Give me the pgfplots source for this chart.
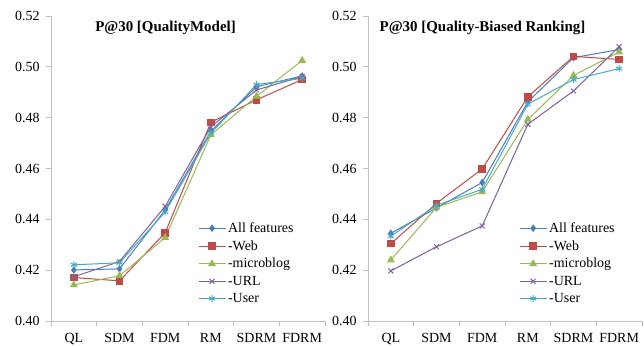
\documentclass[border=0pt]{standalone}
\usepackage{fontspec}
\setmainfont{Liberation Serif}
\usepackage{pgfplots}
\pgfplotsset{compat=1.18}
\definecolor{cblue}{HTML}{4A7EBB}
\definecolor{cred}{HTML}{BE4B48}
\definecolor{cgreen}{HTML}{98B954}
\definecolor{cpurple}{HTML}{7D60A0}
\definecolor{ccyan}{HTML}{46AAC5}
\definecolor{axgray}{HTML}{BFBFBF}
\pgfplotsset{
  panel/.style={
    scale only axis, width=274bp, height=305bp,
    anchor=south west,
    xmin=-0.5, xmax=5.5, ymin=0.40, ymax=0.52,
    axis x line*=bottom, axis y line*=left,
    axis line style={axgray, line width=0.8bp},
    every tick/.style={axgray, line width=0.8bp},
    tick align=outside, major tick length=5bp,
    xtick={-0.5,0.5,...,5.5},
    x tick label as interval,
    xticklabels={QL,SDM,FDM,RM,SDRM,FDRM},
    xticklabel style={yshift=-4bp},
    ytick={0.40,0.42,...,0.521},
    yticklabel style={/pgf/number format/.cd, fixed, fixed zerofill, precision=2, /tikz/.cd, xshift=-3bp},
    /pgf/number format/assume math mode=true,
    tick label style={font=\fontsize{14}{16}\selectfont, black},
    legend style={draw=none, fill=none, font=\fontsize{14}{16}\selectfont, anchor=north west, row sep=2.6bp, inner sep=0pt,
      nodes={inner sep=2bp}},
    legend cell align=left,
    legend image code/.code={\draw[mark repeat=2,mark phase=2] plot coordinates {(0bp,0bp)(13.5bp,0bp)(27bp,0bp)};},
    every axis plot/.append style={line width=1bp},
    title style={anchor=center, yshift=0pt, font=\fontsize{15}{17}\selectfont},
  },
  sA/.style={cblue, mark=diamond*, mark size=3bp, mark options={solid}},
  sB/.style={cred, mark=square*, mark size=3.2bp},
  sC/.style={cgreen, mark=triangle*, mark size=3.6bp},
  sD/.style={cpurple, mark=x, mark size=3.5bp},
  sE/.style={ccyan, mark=asterisk, mark size=3.5bp},
}
\begin{document}
\begin{tikzpicture}
\path[use as bounding box] (0,0) rectangle (644bp,346bp);
\begin{axis}[panel, at={(51bp,25bp)},
  title={\textbf{P@30 [QualityModel]}},
  title style={at={(axis description cs:0.418,0.94)}},
  legend style={at={(axis description cs:0.536,0.33)}}]
\addplot[sA] coordinates {(0,0.4201)(1,0.4205)(2,0.4437)(3,0.4747)(4,0.4922)(5,0.4964)};
\addplot[sB] coordinates {(0,0.4171)(1,0.4158)(2,0.4347)(3,0.4782)(4,0.4870)(5,0.4950)};
\addplot[sC] coordinates {(0,0.4142)(1,0.4178)(2,0.4328)(3,0.4732)(4,0.4884)(5,0.5025)};
\addplot[sD] coordinates {(0,0.4174)(1,0.4234)(2,0.4451)(3,0.4764)(4,0.4909)(5,0.4962)};
\addplot[sE] coordinates {(0,0.4221)(1,0.4229)(2,0.4429)(3,0.4739)(4,0.4930)(5,0.4955)};
\legend{All features,-Web,-microblog,-URL,-User}
\end{axis}
\begin{axis}[panel, at={(368bp,25bp)},
  title={\textbf{P@30 [Quality-Biased Ranking]}},
  title style={at={(axis description cs:0.418,0.94)}},
  legend style={at={(axis description cs:0.551,0.33)}}]
\addplot[sA] coordinates {(0,0.4345)(1,0.4445)(2,0.4545)(3,0.4862)(4,0.5036)(5,0.5068)};
\addplot[sB] coordinates {(0,0.4304)(1,0.4463)(2,0.4598)(3,0.4882)(4,0.5041)(5,0.5029)};
\addplot[sC] coordinates {(0,0.4240)(1,0.4447)(2,0.4508)(3,0.4793)(4,0.4966)(5,0.5058)};
\addplot[sD] coordinates {(0,0.4197)(1,0.4292)(2,0.4374)(3,0.4774)(4,0.4905)(5,0.5079)};
\addplot[sE] coordinates {(0,0.4334)(1,0.4455)(2,0.4518)(3,0.4853)(4,0.4950)(5,0.4993)};
\legend{All features,-Web,-microblog,-URL,-User}
\end{axis}
\end{tikzpicture}
\end{document}
